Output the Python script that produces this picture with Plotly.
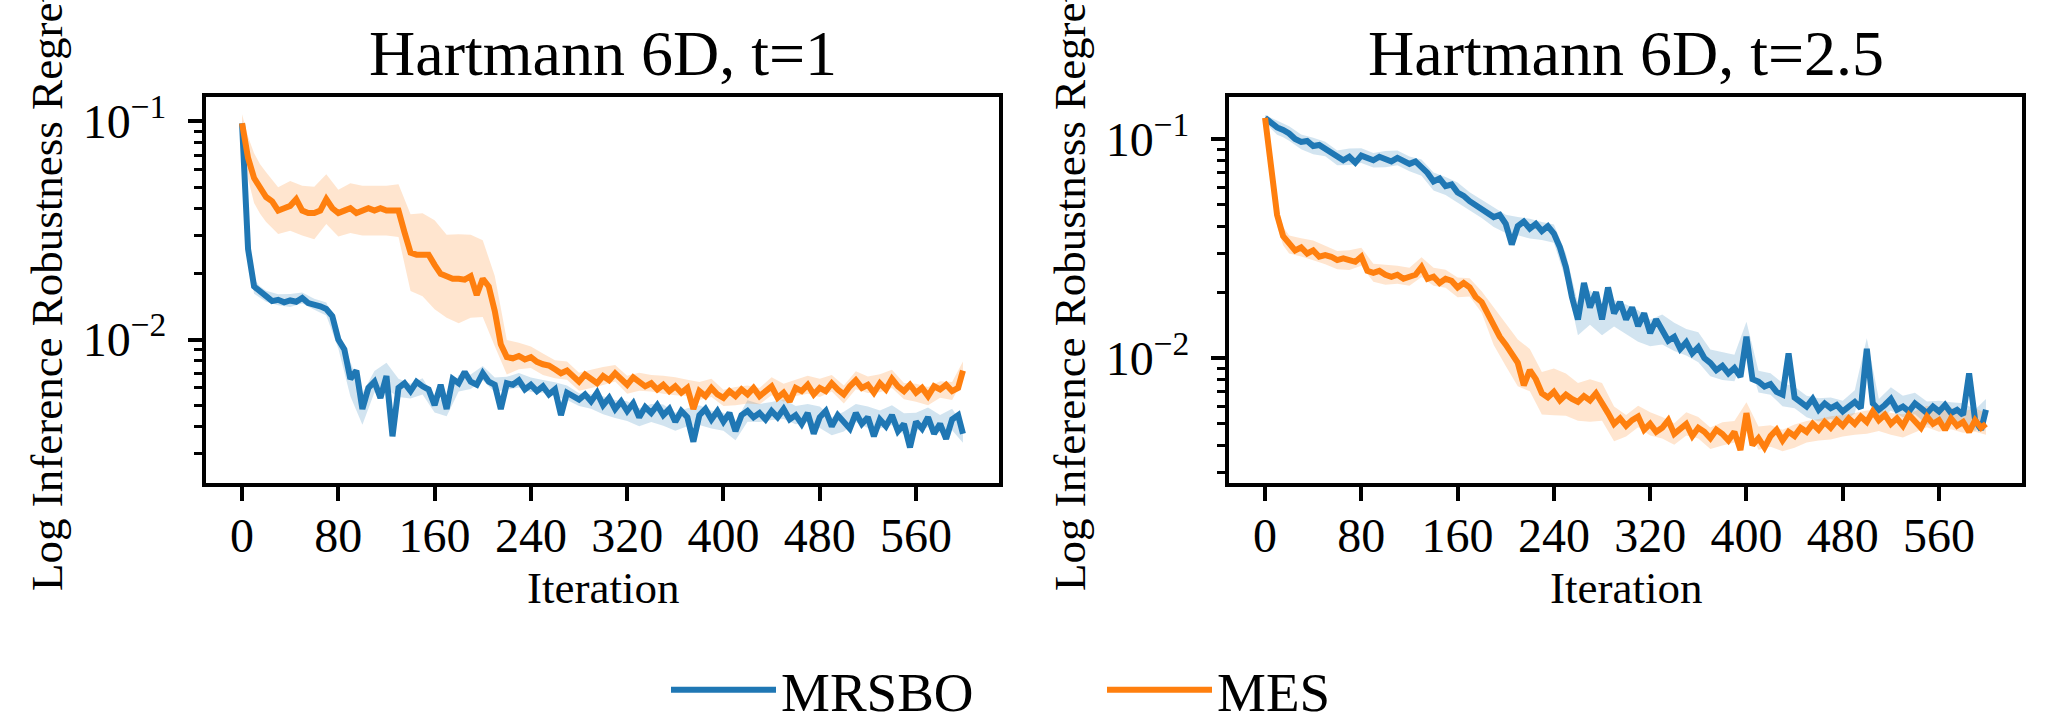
import plotly.graph_objects as go

# ---------------- data ----------------
ITER = list(range(0, 600, 5)) + [599]
BAND_ITER = [0, 5, 10, 15] + list(range(20, 600, 10)) + [599]

XTICKS = [0, 80, 160, 240, 320, 400, 480, 560]
YTICK_VALS = [0.01, 0.1]
YTICK_TEXT = ["10<sup>\u22122</sup>", "10<sup>\u22121</sup>"]
YMINOR = [0.003, 0.004, 0.005, 0.006, 0.007, 0.008, 0.009,
          0.02, 0.03, 0.04, 0.05, 0.06, 0.07, 0.08, 0.09]

TITLES = ["Hartmann 6D, t=1", "Hartmann 6D, t=2.5"]
SERIES = ["MRSBO", "MES"]

# Panel 1 (t=1)
t1_mrsbo = [
    0.098, 0.026, 0.0175, 0.0165, 0.0158, 0.0150, 0.0152, 0.0148, 0.0151, 0.0149,
    0.0155, 0.0147, 0.0145, 0.0142, 0.0138, 0.0128, 0.0100, 0.0090, 0.0066, 0.0072,
    0.0048, 0.0060, 0.0064, 0.0054, 0.0068, 0.0036, 0.0060, 0.0063, 0.0058, 0.0064,
    0.0061, 0.0059, 0.0050, 0.0062, 0.0048, 0.0066, 0.0063, 0.0071, 0.0064, 0.0062,
    0.0070, 0.0064, 0.0062, 0.0048, 0.0063, 0.0062, 0.0065, 0.0059, 0.0062, 0.0058,
    0.0061, 0.0056, 0.0059, 0.0045, 0.0057, 0.0055, 0.0053, 0.0056, 0.0052, 0.0057,
    0.0050, 0.0054, 0.0048, 0.0052, 0.0047, 0.0051, 0.0044, 0.0049, 0.0046, 0.0050,
    0.0045, 0.0048, 0.0042, 0.0047, 0.0044, 0.0034, 0.0045, 0.0048, 0.0043, 0.0047,
    0.0042, 0.0046, 0.0038, 0.0045, 0.0047, 0.0044, 0.0046, 0.0043, 0.0047, 0.0044,
    0.0048, 0.0043, 0.0045, 0.0041, 0.0046, 0.0037, 0.0044, 0.0047, 0.0040, 0.0045,
    0.0042, 0.0039, 0.0046, 0.0041, 0.0044, 0.0036, 0.0043, 0.0040, 0.0045, 0.0038,
    0.0041, 0.0032, 0.0042, 0.0039, 0.0044, 0.0037, 0.0041, 0.0035, 0.0043, 0.0045,
    0.0037]
t1_mes = [
    0.098, 0.068, 0.055, 0.049, 0.045, 0.043, 0.039, 0.040, 0.041, 0.044,
    0.039, 0.038, 0.038, 0.039, 0.044, 0.040, 0.038, 0.039, 0.040, 0.038,
    0.039, 0.040, 0.039, 0.040, 0.039, 0.039, 0.039, 0.031, 0.025, 0.0245,
    0.0245, 0.0245, 0.022, 0.020, 0.0195, 0.019, 0.019, 0.0188, 0.0195, 0.016,
    0.019, 0.0175, 0.0135, 0.0095, 0.0083, 0.0082, 0.0084, 0.0081, 0.0083, 0.0079,
    0.0077, 0.0076, 0.0073, 0.0070, 0.0072, 0.0068, 0.0064, 0.0069, 0.0066, 0.0063,
    0.0068, 0.0065, 0.0070, 0.0066, 0.0062, 0.0067, 0.0064, 0.0061, 0.0063, 0.0059,
    0.0062, 0.0058, 0.0061, 0.0057, 0.0060, 0.0048, 0.0058, 0.0055, 0.0060, 0.0056,
    0.0054, 0.0058, 0.0055, 0.0059, 0.0056, 0.0060, 0.0055, 0.0058, 0.0061, 0.0054,
    0.0057, 0.0052, 0.0060, 0.0058, 0.0062, 0.0056, 0.0060, 0.0058, 0.0063, 0.0059,
    0.0056, 0.0061, 0.0065, 0.0060, 0.0062, 0.0057, 0.0063, 0.0059, 0.0066, 0.0061,
    0.0058, 0.0062, 0.0057, 0.0060, 0.0055, 0.0061, 0.0059, 0.0062, 0.0058, 0.0060,
    0.0072]

# Panel 2 (t=2.5)
t25_mrsbo = [
    0.125, 0.118, 0.113, 0.110, 0.106, 0.100, 0.097, 0.098, 0.093, 0.094,
    0.090, 0.086, 0.082, 0.080, 0.083, 0.078, 0.084, 0.082, 0.080, 0.083,
    0.081, 0.079, 0.082, 0.080, 0.077, 0.079, 0.074, 0.070, 0.064, 0.066,
    0.061, 0.062, 0.057, 0.055, 0.052, 0.050, 0.048, 0.046, 0.044, 0.045,
    0.041, 0.033, 0.040, 0.042, 0.039, 0.041, 0.038, 0.040, 0.037, 0.032,
    0.026, 0.019, 0.015, 0.022, 0.017, 0.020, 0.015, 0.021, 0.016, 0.018,
    0.015, 0.017, 0.014, 0.016, 0.013, 0.015, 0.0135, 0.012, 0.0125, 0.011,
    0.0118, 0.0105, 0.0112, 0.0100, 0.0095, 0.0088, 0.0092, 0.0085, 0.0090, 0.0082,
    0.0125, 0.0080, 0.0078, 0.0074, 0.0076, 0.0070, 0.0068, 0.0105, 0.0066, 0.0063,
    0.0060, 0.0065, 0.0058, 0.0062, 0.0059, 0.0061, 0.0057, 0.0060, 0.0063, 0.0059,
    0.0110, 0.0062, 0.0058, 0.0061, 0.0065, 0.0058, 0.0060, 0.0057, 0.0062, 0.0059,
    0.0056, 0.0060, 0.0057, 0.0061, 0.0056, 0.0058, 0.0055, 0.0085, 0.0052, 0.0047,
    0.0058]
t25_mes = [
    0.125, 0.070, 0.045, 0.036, 0.033, 0.031, 0.032, 0.030, 0.031, 0.029,
    0.0295, 0.029, 0.028, 0.0285, 0.028, 0.0275, 0.029, 0.025, 0.0245, 0.025,
    0.024, 0.0235, 0.024, 0.023, 0.0235, 0.024, 0.026, 0.023, 0.0235, 0.022,
    0.023, 0.0225, 0.021, 0.022, 0.021, 0.019, 0.018, 0.016, 0.014, 0.0125,
    0.0115, 0.0105, 0.0095, 0.0075, 0.0088, 0.0080, 0.0069, 0.0066, 0.0070, 0.0064,
    0.0068, 0.0065, 0.0063, 0.0067, 0.0064, 0.0069, 0.0063, 0.0056, 0.0050, 0.0053,
    0.0049, 0.0052, 0.0054, 0.0047, 0.0050, 0.0046, 0.0048, 0.0052, 0.0045, 0.0047,
    0.0050, 0.0044, 0.0048, 0.0046, 0.0043, 0.0047, 0.0045, 0.0042, 0.0046, 0.0038,
    0.0056, 0.0040, 0.0043, 0.0039, 0.0044, 0.0047, 0.0042, 0.0046, 0.0044, 0.0048,
    0.0046, 0.0050, 0.0047, 0.0051, 0.0048, 0.0052, 0.0049, 0.0053, 0.0050, 0.0054,
    0.0051, 0.0057, 0.0052, 0.0055, 0.0050, 0.0053, 0.0049, 0.0055, 0.0051, 0.0048,
    0.0054, 0.0050, 0.0052, 0.0047, 0.0053, 0.0049, 0.0051, 0.0046, 0.0052, 0.0048,
    0.0050]

# multiplicative spread of the shaded band at BAND_ITER
t1_mrsbo_spread = [
    1.05, 1.12, 1.08, 1.06,
    1.06, 1.06, 1.07, 1.06, 1.06, 1.07,
    1.10, 1.20, 1.18, 1.12, 1.15, 1.10,
    1.08, 1.09, 1.08, 1.08, 1.09, 1.08, 1.08, 1.08, 1.07, 1.08, 1.08, 1.07, 1.08, 1.08, 1.07, 1.08,
    1.10, 1.10, 1.11, 1.10, 1.10, 1.12, 1.10, 1.10, 1.11, 1.10, 1.10, 1.10, 1.12, 1.10, 1.10,
    1.11, 1.10, 1.10, 1.12, 1.10, 1.11, 1.10, 1.12, 1.10, 1.11, 1.12, 1.10, 1.11, 1.10, 1.12,
    1.10]
t1_mes_spread = [
    1.10, 1.25, 1.30, 1.30,
    1.30, 1.28, 1.30, 1.30, 1.32, 1.30, 1.28, 1.30, 1.30, 1.30, 1.30, 1.32,
    1.50, 1.55, 1.60, 1.55, 1.60, 1.55, 1.50, 1.45,
    1.20, 1.15, 1.12, 1.12, 1.10, 1.10, 1.10, 1.10,
    1.10, 1.09, 1.10, 1.10, 1.09, 1.10, 1.10, 1.09, 1.10, 1.10, 1.09, 1.10, 1.10, 1.09, 1.10,
    1.10, 1.09, 1.10, 1.10, 1.09, 1.10, 1.10, 1.09, 1.10, 1.10, 1.09, 1.10, 1.10, 1.09, 1.10,
    1.10]
t25_mrsbo_spread = [
    1.03, 1.06, 1.08, 1.08,
    1.08, 1.08, 1.09, 1.08, 1.08, 1.09, 1.08, 1.08, 1.09, 1.08, 1.08, 1.09,
    1.10, 1.10, 1.11, 1.10, 1.10, 1.11, 1.10, 1.10, 1.11, 1.10, 1.10,
    1.15, 1.18, 1.20, 1.18, 1.15, 1.17, 1.18, 1.15, 1.17, 1.16, 1.15, 1.17, 1.15, 1.16, 1.15, 1.17,
    1.12, 1.12, 1.13, 1.12, 1.12, 1.13, 1.12, 1.12, 1.13, 1.12, 1.12, 1.13, 1.12, 1.12, 1.13, 1.12,
    1.12, 1.13, 1.12,
    1.12]
t25_mes_spread = [
    1.03, 1.10, 1.12, 1.10,
    1.10, 1.10, 1.11, 1.10, 1.10, 1.11, 1.10, 1.10, 1.11, 1.10, 1.10, 1.11, 1.10, 1.10, 1.11, 1.10, 1.12,
    1.22, 1.25, 1.28, 1.25, 1.25, 1.28, 1.25, 1.22, 1.25, 1.22, 1.20,
    1.12, 1.12, 1.13, 1.12, 1.12, 1.13, 1.12, 1.12, 1.13, 1.12, 1.12, 1.13, 1.12, 1.12, 1.13,
    1.12, 1.12, 1.13, 1.12, 1.12, 1.13, 1.12, 1.12, 1.13, 1.12, 1.12, 1.13, 1.12, 1.12, 1.13,
    1.12]

for arr in (t1_mrsbo, t1_mes, t25_mrsbo, t25_mes):
    assert len(arr) == len(ITER), len(arr)
for arr in (t1_mrsbo_spread, t1_mes_spread, t25_mrsbo_spread, t25_mes_spread):
    assert len(arr) == len(BAND_ITER), len(arr)

# ---------------- styling ----------------
COLORS = {"MRSBO": "#1f77b4", "MES": "#ff7f0e"}
FILLS = {"MRSBO": "rgba(31,119,180,0.20)", "MES": "rgba(255,127,14,0.20)"}
FONT = "Liberation Serif"
W, H = 2052, 718

panels = [
    dict(title=TITLES[0], data={"MRSBO": (t1_mrsbo, t1_mrsbo_spread), "MES": (t1_mes, t1_mes_spread)},
         xdom=[206 / W, 999 / W], yrange=[-2.658, -0.888]),
    dict(title=TITLES[1], data={"MRSBO": (t25_mrsbo, t25_mrsbo_spread), "MES": (t25_mes, t25_mes_spread)},
         xdom=[1229 / W, 2022 / W], yrange=[-2.571, -0.808]),
]
YDOM = [1 - 483 / H, 1 - 97 / H]

fig = go.Figure()
band_idx = [ITER.index(b) for b in BAND_ITER]

for p, panel in enumerate(panels):
    xa = "x" if p == 0 else "x2"
    ya = "y" if p == 0 else "y2"
    # bands
    for name in SERIES:
        mean, spread = panel["data"][name]
        upper = [mean[i] * s for i, s in zip(band_idx, spread)]
        lower = [mean[i] / s for i, s in zip(band_idx, spread)]
        fig.add_trace(go.Scatter(
            x=BAND_ITER + BAND_ITER[::-1], y=upper + lower[::-1],
            fill="toself", fillcolor=FILLS[name], line=dict(width=0),
            mode="lines", hoverinfo="skip", showlegend=False, xaxis=xa, yaxis=ya))
    # lines
    for name in SERIES:
        mean, _ = panel["data"][name]
        fig.add_trace(go.Scatter(
            x=ITER, y=mean, mode="lines", name=name,
            line=dict(color=COLORS[name], width=6),
            showlegend=(p == 0), legendgroup=name, xaxis=xa, yaxis=ya))

axis_common = dict(showline=True, linecolor="black", linewidth=4, mirror=True,
                   ticks="outside", ticklen=14, tickwidth=3.5, tickcolor="black",
                   showgrid=False, zeroline=False,
                   tickfont=dict(family=FONT, size=48, color="black"))

layout = dict(
    width=W, height=H, margin=dict(l=0, r=0, t=0, b=0, autoexpand=False),
    paper_bgcolor="white", plot_bgcolor="white",
    font=dict(family=FONT, color="black"),
    showlegend=True,
    legend=dict(orientation="h", x=666 / W, xanchor="left", y=1 - 690 / H, yanchor="middle",
                font=dict(family=FONT, size=55, color="black"),
                itemwidth=105, entrywidth=316, bgcolor="rgba(0,0,0,0)"),
)

annotations = []
for p, panel in enumerate(panels):
    sfx = "" if p == 0 else "2"
    layout["xaxis" + sfx] = dict(axis_common, domain=panel["xdom"], anchor="y" + sfx,
                                 range=[-29.95, 628.95], tickmode="array", tickvals=XTICKS,
                                 ticklabelstandoff=-7, automargin=False)
    layout["yaxis" + sfx] = dict(axis_common, domain=YDOM, anchor="x" + sfx, type="log",
                                 range=panel["yrange"], tickmode="array",
                                 tickvals=YTICK_VALS, ticktext=YTICK_TEXT,
                                 ticklabelstandoff=12, automargin=False,
                                 minor=dict(tickmode="array", tickvals=YMINOR, ticks="outside",
                                            ticklen=8, tickwidth=3, tickcolor="black"))
    cx = (panel["xdom"][0] + panel["xdom"][1]) / 2
    annotations.append(dict(text=panel["title"], x=cx, y=1 - 53 / H, xref="paper", yref="paper",
                            xanchor="center", yanchor="middle", showarrow=False,
                            font=dict(family=FONT, size=64, color="black")))
    annotations.append(dict(text="Iteration", x=cx, y=1 - 588 / H, xref="paper", yref="paper",
                            xanchor="center", yanchor="middle", showarrow=False,
                            font=dict(family=FONT, size=45, color="black")))
    ylab_x = (47 if p == 0 else 1070) / W
    annotations.append(dict(text="Log Inference Robustness Regret", x=ylab_x,
                            y=(YDOM[0] + YDOM[1]) / 2, xref="paper", yref="paper",
                            xanchor="center", yanchor="middle", textangle=-90, showarrow=False,
                            font=dict(family=FONT, size=45, color="black")))
layout["annotations"] = annotations

fig.update_layout(**layout)
fig.write_html("out.html")
